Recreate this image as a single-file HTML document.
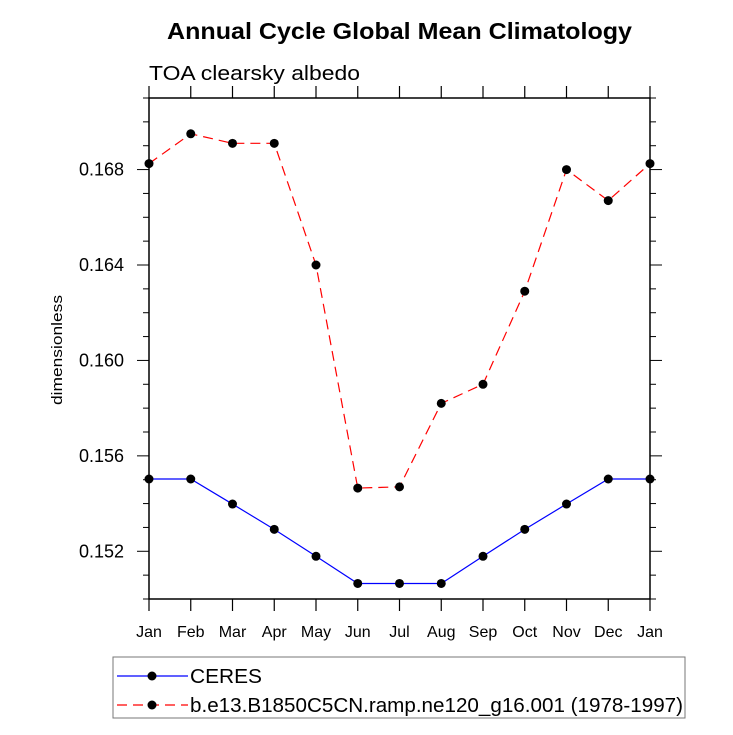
<!DOCTYPE html>
<html><head><meta charset="utf-8"><style>
body{margin:0;background:#fff}
svg text{font-family:"Liberation Sans",sans-serif}
</style></head><body>
<svg id="c" width="733" height="730" xmlns="http://www.w3.org/2000/svg">
<text x="167" y="39" textLength="465" lengthAdjust="spacingAndGlyphs" font-size="23" font-weight="bold">Annual Cycle Global Mean Climatology</text>
<text x="149" y="80" textLength="211" lengthAdjust="spacingAndGlyphs" font-size="20">TOA clearsky albedo</text>
<text transform="translate(62,350) rotate(-90)" x="-55" y="0" textLength="110" lengthAdjust="spacingAndGlyphs" font-size="15">dimensionless</text>
<g id="axes"></g><g id="series"></g>
<g>
<rect x="113" y="657" width="572" height="61" fill="none" stroke="#777" stroke-width="1"/>
<line x1="117" y1="676" x2="188" y2="676" stroke="#00f" stroke-width="1.2"/>
<circle cx="152" cy="676" r="4.5" fill="#000"/>
<text x="190" y="683" textLength="72" lengthAdjust="spacingAndGlyphs" font-size="20">CERES</text>
<line x1="117" y1="705" x2="188" y2="705" stroke="#f00" stroke-width="1.2" stroke-dasharray="10,6"/>
<circle cx="152" cy="705" r="4.5" fill="#000"/>
<text x="190" y="712" textLength="493" lengthAdjust="spacingAndGlyphs" font-size="20">b.e13.B1850C5CN.ramp.ne120_g16.001 (1978-1997)</text>
</g>
</svg>
<script>
const months=["Jan","Feb","Mar","Apr","May","Jun","Jul","Aug","Sep","Oct","Nov","Dec","Jan"];
const ceres=[0.15503,0.15503,0.15398,0.15292,0.15179,0.15065,0.15065,0.15065,0.15179,0.15292,0.15398,0.15503,0.15503];
const model=[0.16825,0.1695,0.1691,0.1691,0.1640,0.15465,0.1547,0.1582,0.1590,0.1629,0.1680,0.1667,0.16825];
const yTicks=[0.152,0.156,0.160,0.164,0.168];
const yMin=0.150,yMax=0.171;
const L=149,R=650,T=98,B=599;
const NS="http://www.w3.org/2000/svg";
function xs(i){return L+(R-L)*i/(months.length-1);}
function ys(v){return B-(v-yMin)/(yMax-yMin)*(B-T);}
function mk(tag,at,par){const e=document.createElementNS(NS,tag);for(const k in at)e.setAttribute(k,at[k]);par.appendChild(e);return e;}
const ax=document.getElementById('axes');
const frame=mk('rect',{x:L,y:T,width:R-L,height:B-T,fill:'none',stroke:'#000','stroke-width':1.5},ax);


months.forEach((m,i)=>{
 const x=xs(i);
 mk('line',{x1:x,y1:B,x2:x,y2:B+12,stroke:'#000','stroke-width':1.2},ax);
 mk('line',{x1:x,y1:T,x2:x,y2:T-12,stroke:'#000','stroke-width':1.2},ax);
 const t=mk('text',{x:x,y:B+38,'text-anchor':'middle','font-size':16},ax);t.textContent=m;
 
 
});
for(let k=0;k<=21;k++){
 const v=yMin+k*0.001;const y=ys(v);
 const major=yTicks.some(t=>Math.abs(t-v)<1e-6);const len=major?12:6;
 mk('line',{x1:L,y1:y,x2:L-len,y2:y,stroke:'#000','stroke-width':1},ax);
 mk('line',{x1:R,y1:y,x2:R+len,y2:y,stroke:'#000','stroke-width':1},ax);
}
yTicks.forEach(v=>{
 const t=mk('text',{x:L-25,y:ys(v)+6,'text-anchor':'end','font-size':18},ax);t.textContent=v.toFixed(3);
 
 
});
const sg=document.getElementById('series');
function draw(vals,color,dash,name){
 const p=mk('polyline',{points:vals.map((v,i)=>xs(i)+','+ys(v)).join(' '),fill:'none',stroke:color,'stroke-width':1.2,'stroke-dasharray':dash},sg);
 
 
 vals.forEach((v,i)=>{
  const c=mk('circle',{cx:xs(i),cy:ys(v),r:4.5,fill:'#000'},sg);
  
  
 });
}
draw(ceres,'#00f','none','ceres');
draw(model,'#f00','10,6','model');
</script>
</body></html>
